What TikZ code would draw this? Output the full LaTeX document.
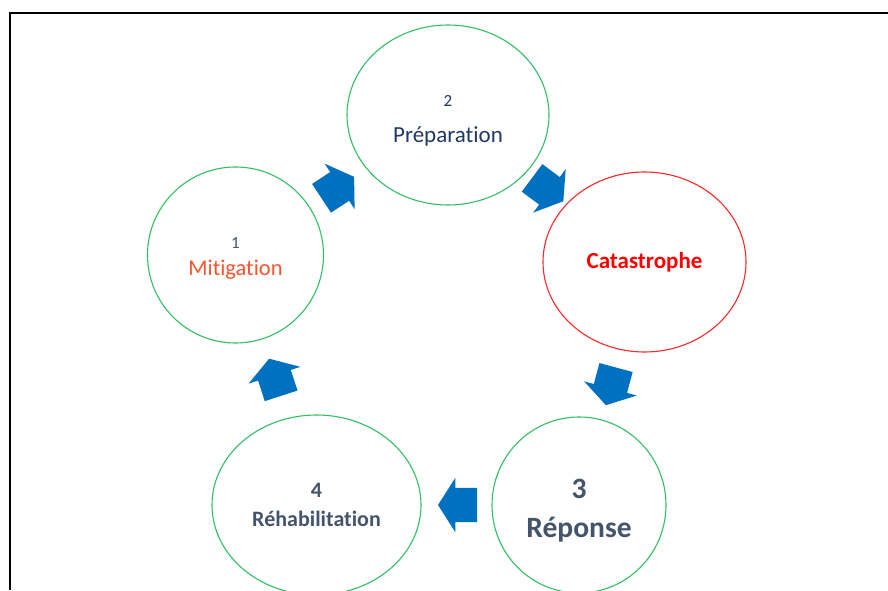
\documentclass[tikz,border=0pt]{standalone}
\usepackage{fontspec}
\setmainfont{Carlito}[Ligatures=NoCommon]
\usetikzlibrary{shapes.geometric,shapes.arrows,calc}
\definecolor{ringgreen}{RGB}{50,190,100}
\definecolor{ringred}{RGB}{250,40,40}
\definecolor{arrowblue}{RGB}{0,112,192}
\definecolor{navytext}{RGB}{31,56,100}
\definecolor{slatetext}{RGB}{68,84,106}
\definecolor{mitorange}{RGB}{245,85,45}
\begin{document}
\begin{tikzpicture}[x=1pt,y=1pt,
    phase/.style={ellipse, draw=ringgreen, line width=1.1pt, align=center, inner sep=0pt},
    blockarrow/.style={single arrow, fill=arrowblue, draw=none,
        inner xsep=0pt, inner ysep=17pt, minimum height=39pt,
        single arrow head extend=10pt, single arrow tip angle=115}]
    \useasboundingbox (0,0) rectangle (888,590);
    \draw[line width=2.5pt] (10,0) |- (888,577);

    \node[phase, minimum width=176pt, minimum height=176pt,
        font=\fontsize{22.5}{24}\selectfont] (mit) at (235.5,335)
        {\rule{0pt}{18pt}{\fontsize{17}{18}\selectfont\color{slatetext}1}\\[3pt]
         \color{mitorange}Mitigation};
    \node[phase, minimum width=202pt, minimum height=180pt,
        font=\fontsize{23}{27}\selectfont\color{navytext}] (prep) at (448,475)
        {\rule{0pt}{23pt}{\fontsize{17}{18}\selectfont 2}\\[9pt]
         Préparation};
    \node[phase, draw=ringred, minimum width=203pt, minimum height=180pt,
        font=\fontsize{23}{27}\selectfont\bfseries] (cat) at (644.5,328)
        {\color{red}Catastrophe};
    \node[phase, minimum width=174pt, minimum height=176pt,
        font=\fontsize{29.5}{36}\selectfont\bfseries\color{slatetext}] (rep) at (579,85)
        {\rule{0pt}{30pt}3\\[3pt] Réponse};
    \node[phase, minimum width=209pt, minimum height=180pt,
        font=\fontsize{22}{28}\selectfont\bfseries\color{slatetext}] (reh) at (316.5,85)
        {4\\[1pt] Réhabilitation};

    % block arrows between the phases
    \foreach \a/\b/\t [count=\i] in {mit/prep/0.46,prep/cat/0.485,cat/rep/0.49,rep/reh/0.442,reh/mit/0.49}
        \path let \p1=($(\b)-(\a)$), \n1={atan2(\y1,\x1)} in
            node[blockarrow, rotate=\n1] (arr\i) at ($(\a)!\t!(\b)$) {};
\end{tikzpicture}
\end{document}
